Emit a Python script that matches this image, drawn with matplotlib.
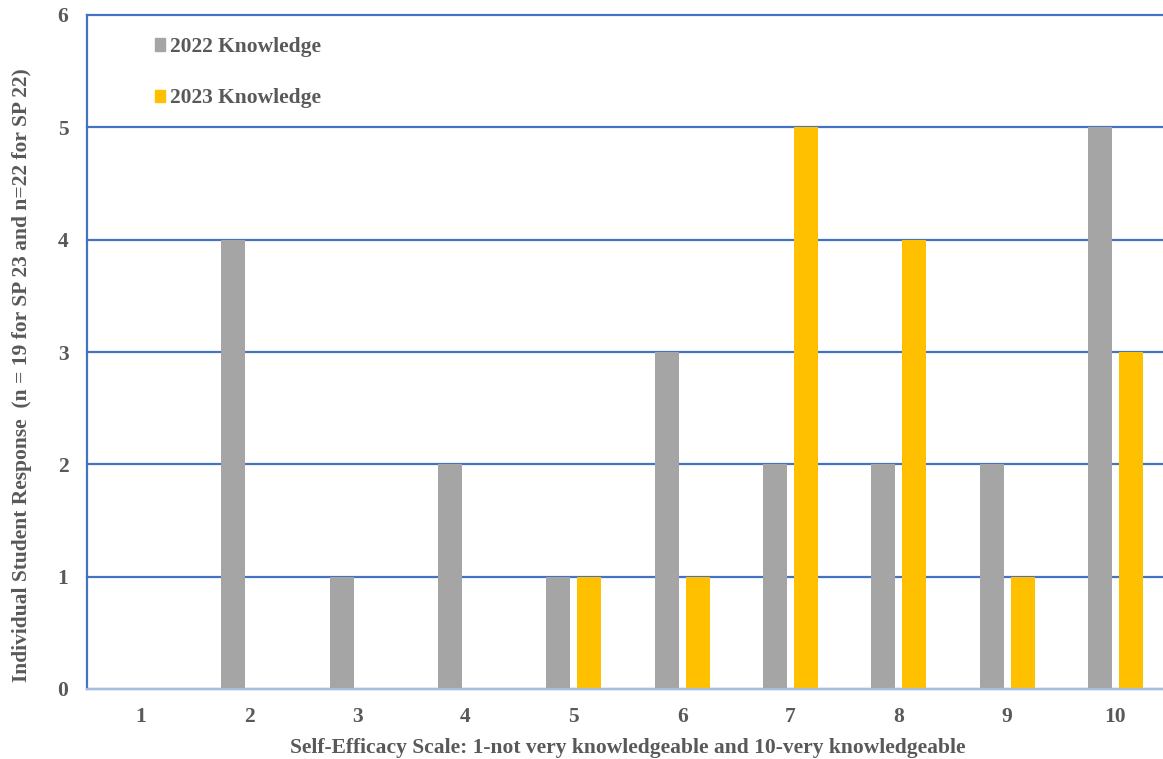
import matplotlib
matplotlib.use("Agg")
import matplotlib.pyplot as plt
import numpy as np
from matplotlib.patches import Patch

# DATA
scale = [1, 2, 3, 4, 5, 6, 7, 8, 9, 10]
knowledge_2022 = [0, 4, 1, 2, 1, 3, 2, 2, 2, 5]
knowledge_2023 = [0, 0, 0, 0, 1, 1, 5, 4, 1, 3]
y_ticks = [0, 1, 2, 3, 4, 5, 6]

GREY = "#A5A5A5"
GOLD = "#FFC000"
BLUE = "#4472C4"
TEXT = "#595959"
FS = 15.5

plt.rcParams["font.family"] = ["Liberation Serif", "DejaVu Serif"]
plt.rcParams["font.weight"] = "bold"

fig = plt.figure(figsize=(11.63, 7.59), dpi=100)
# plot area runs a little past the right edge of the image, as in the original
ax = fig.add_axes([86.5 / 1163, 70 / 759, 1083 / 1163, 674 / 759])

x = np.arange(len(scale))
w = 0.222
ax.bar(x - 0.143, knowledge_2022, width=w, color=GREY, zorder=3)
ax.bar(x + 0.143, knowledge_2023, width=w, color=GOLD, zorder=3)

ax.set_xlim(-0.5, len(scale) - 0.5)
ax.set_ylim(0, 6)
ax.set_yticks(y_ticks)
ax.set_xticks(x)
ax.set_xticklabels([str(s) for s in scale])
ax.tick_params(axis="both", length=0, labelsize=FS, colors=TEXT)
ax.tick_params(axis="x", pad=13)
ax.tick_params(axis="y", pad=13)

ax.grid(axis="y", color=BLUE, linewidth=1.6, zorder=0)
for gl in ax.get_ygridlines():
    gl.set_clip_on(False)
for s in ["top", "right"]:
    ax.spines[s].set_visible(False)
ax.spines["left"].set_color(BLUE)
ax.spines["left"].set_linewidth(1.6)
ax.spines["bottom"].set_color("#A9BDE3")
ax.spines["bottom"].set_linewidth(1.6)
ax.spines["bottom"].set_zorder(4)

ax.set_xlabel("Self-Efficacy Scale: 1-not very knowledgeable and 10-very knowledgeable",
              fontsize=FS, color=TEXT, fontweight="bold")
ax.xaxis.set_label_coords(0.5, -0.073)
ax.set_ylabel("Individual Student Response  (n = 19 for SP 23 and n=22 for SP 22)",
              fontsize=FS, color=TEXT, fontweight="bold")
ax.yaxis.set_label_coords(-0.050, 0.466)

handles = [Patch(color=GREY, label="2022 Knowledge"),
           Patch(color=GOLD, label="2023 Knowledge")]
leg = ax.legend(handles=handles, loc="upper left", bbox_to_anchor=(0.063, 0.967),
                frameon=False, fontsize=FS, labelspacing=1.45, borderpad=0, borderaxespad=0,
                handlelength=0.5, handleheight=0.5, handletextpad=0.2)
for t in leg.get_texts():
    t.set_color(TEXT)

fig.savefig("out.png", dpi=100)
